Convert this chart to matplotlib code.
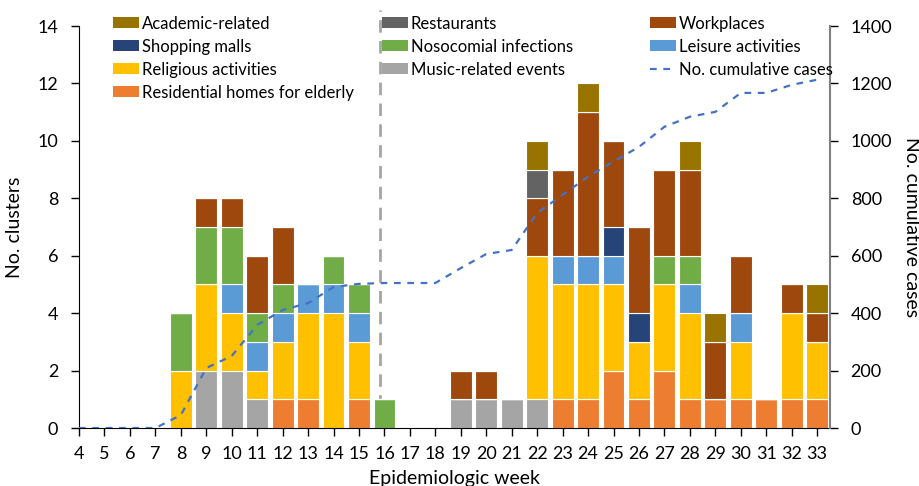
import numpy as np
import matplotlib
matplotlib.use('Agg')
import matplotlib.pyplot as plt
from matplotlib.patches import Patch
from matplotlib.lines import Line2D

plt.rcParams['font.family'] = ['Lato', 'DejaVu Sans']

weeks = list(range(4, 34))

# clusters per week, one list per setting (weeks 4..33)
residential = [0,0,0,0, 0,0,0,0,1,1,0,1, 0,0,0, 0,0,0, 0,1,1,2,1,2,1,1,1,1,1,1]
music       = [0,0,0,0, 0,2,2,1,0,0,0,0, 0,0,0, 1,1,1, 1,0,0,0,0,0,0,0,0,0,0,0]
religious   = [0,0,0,0, 2,3,2,1,2,3,4,2, 0,0,0, 0,0,0, 5,4,4,3,2,3,3,0,2,0,3,2]
leisure     = [0,0,0,0, 0,0,1,1,1,1,1,1, 0,0,0, 0,0,0, 0,1,1,1,0,0,1,0,1,0,0,0]
nosocomial  = [0,0,0,0, 2,2,2,1,1,0,1,1, 1,0,0, 0,0,0, 0,0,0,0,0,1,1,0,0,0,0,0]
shopping    = [0,0,0,0, 0,0,0,0,0,0,0,0, 0,0,0, 0,0,0, 0,0,0,1,1,0,0,0,0,0,0,0]
workplaces  = [0,0,0,0, 0,1,1,2,2,0,0,0, 0,0,0, 1,1,0, 2,3,5,3,3,3,3,2,2,0,1,1]
restaurants = [0,0,0,0, 0,0,0,0,0,0,0,0, 0,0,0, 0,0,0, 1,0,0,0,0,0,0,0,0,0,0,0]
academic    = [0,0,0,0, 0,0,0,0,0,0,0,0, 0,0,0, 0,0,0, 1,0,1,0,0,0,1,1,0,0,0,1]

cumulative = [0, 0, 0, 0, 45, 209, 251, 359, 411, 435, 491, 502, 505, 505, 505,
              557, 606, 620, 749, 812, 875, 928, 979, 1049, 1084, 1101, 1167,
              1167, 1195, 1213]

series = [
    ('Residential homes for elderly', residential, '#ED7D31'),
    ('Music-related events', music, '#A5A5A5'),
    ('Religious activities', religious, '#FFC000'),
    ('Leisure activities', leisure, '#5B9BD5'),
    ('Nosocomial infections', nosocomial, '#70AD47'),
    ('Shopping malls', shopping, '#264478'),
    ('Workplaces', workplaces, '#9E480E'),
    ('Restaurants', restaurants, '#636363'),
    ('Academic-related', academic, '#997300'),
]
colors = {name: c for name, _, c in series}

fig = plt.figure(figsize=(9.19, 4.86), dpi=100)
ax = fig.add_axes([0.086, 0.1193, 0.817, 0.8272])

bottom = np.zeros(len(weeks))
for name, vals, c in series:
    vals = np.array(vals, dtype=float)
    ax.bar(weeks, vals, bottom=bottom, width=0.86, color=c,
           edgecolor='white', linewidth=0.8, zorder=2)
    bottom += vals

ax.set_xlim(4, 33.5)
ax.set_ylim(0, 14)
ax.set_yticks(range(0, 15, 2))
ax.set_xticks(weeks)
ax.tick_params(axis='both', labelsize=13, length=6, width=1, pad=7)
ax.tick_params(axis='y', pad=9)
for s in ['top', 'right']:
    ax.spines[s].set_visible(False)
ax.set_ylabel('No. clusters', fontsize=14, labelpad=10)
ax.set_xlabel('Epidemiologic week', fontsize=14, labelpad=6)

# vertical marker between waves
ax.axvline(15.83, ymin=0, ymax=1.04, color='#A5A5A5', lw=2,
           linestyle=(0, (4.5, 3)), clip_on=False, zorder=1)

ax2 = ax.twinx()
ax2.plot(weeks, cumulative, color='#4472C4', lw=1.6, linestyle=(0, (3, 3)))
ax2.set_ylim(0, 1400)
ax2.set_yticks(range(0, 1401, 200))
ax2.tick_params(axis='y', labelsize=13, length=6, width=1, pad=9, colors='black')
ax2.spines['right'].set_color('#808080')
ax2.spines['right'].set_linewidth(1.5)
for s in ['top', 'left', 'bottom']:
    ax2.spines[s].set_visible(False)
ax2.set_ylabel('No. cumulative cases', fontsize=14, rotation=270, labelpad=20)

def patch(name):
    return Patch(facecolor=colors[name], edgecolor='none')

cols = [
    ['Academic-related', 'Shopping malls', 'Religious activities',
     'Residential homes for elderly'],
    ['Restaurants', 'Nosocomial infections', 'Music-related events'],
    ['Workplaces', 'Leisure activities', 'No. cumulative cases'],
]
xpos = [0.123, 0.4157, 0.7073]
for col, x in zip(cols, xpos):
    handles = []
    for name in col:
        if name == 'No. cumulative cases':
            handles.append(Line2D([], [], color='#4472C4', lw=1.6,
                                  linestyle=(0, (3, 3))))
        else:
            handles.append(patch(name))
    fig.legend(handles, col, loc='upper left', bbox_to_anchor=(x, 0.968),
               frameon=False, fontsize=12, borderpad=0, borderaxespad=0,
               handlelength=1.55, handleheight=0.6, handletextpad=0.18,
               labelspacing=0.42)

fig.savefig('out.png', dpi=100)
